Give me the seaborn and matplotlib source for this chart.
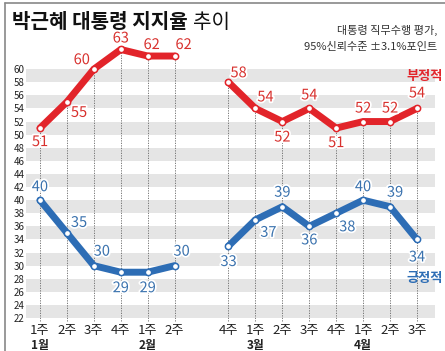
import matplotlib.pyplot as plt
import matplotlib.patheffects as pe
from matplotlib.lines import Line2D
import numpy as np
import pandas as pd
import seaborn as sns

# weekly approval poll, Jan - Apr (no poll in the 3rd week of Feb)
weeks = ['1주', '2주', '3주', '4주', '1주', '2주', '3주', '4주',
         '1주', '2주', '3주', '4주', '1주', '2주', '3주']
months = ['1월', '2월', '3월', '4월']
month_start = [0, 4, 8, 12]
negative = [51, 55, 60, 63, 62, 62, None, 58, 54, 52, 54, 51, 52, 52, 54]
positive = [40, 35, 30, 29, 29, 30, None, 33, 37, 39, 36, 38, 40, 39, 34]

# label offsets (pixels) for the value labels
neg_off = [(0, -14), (12, -11), (-12, 9), (0, 11), (4, 11), (9, 11), None, (10, 9),
           (10, 11), (0, -16), (0, 13), (0, -15), (0, 13), (0, 13), (0, 15)]
pos_off = [(0, 13), (12, 10), (8, 14), (0, -16), (0, -16), (7, 14), None, (0, -16),
           (13, -13), (0, 14), (0, -14), (11, -14), (0, 13), (5, 14), (0, -18)]

RED, RED_TXT = '#e2242a', '#d8312e'
BLUE, BLUE_TXT = '#2d6db5', '#3a72ae'

df = pd.DataFrame({'x': np.arange(len(weeks)), 'week': weeks,
                   'neg': negative, 'pos': positive})
df['neg'] = df['neg'].astype(float)
df['pos'] = df['pos'].astype(float)
df['seg'] = df['neg'].isna().cumsum()
plot_df = df.dropna()

sns.set_style('white')
plt.rcParams['font.family'] = ['Noto Sans CJK KR', 'DejaVu Sans']

W, H = 445, 351
fig = plt.figure(figsize=(W / 100, H / 100), dpi=100)
ax = fig.add_axes([26 / W, 1 - 322 / H, 409 / W, 302 / H])
ax.set_xlim(-0.52, 14.67)
ax.set_ylim(21.4, 67.5)

for lo in range(22, 60, 4):
    ax.axhspan(lo, lo + 2, color='#e5e5e5', lw=0, zorder=0)

ax.vlines(plot_df['x'], 21.5, plot_df['neg'], colors='#666666', lw=0.6,
          linestyles=(0, (1.5, 1.5)), zorder=1)

line_kw = dict(units='seg', estimator=None, lw=5, marker='o', markersize=4.5,
               markerfacecolor='white', markeredgewidth=1.1,
               solid_capstyle='round', solid_joinstyle='round', zorder=3, ax=ax)
sns.lineplot(data=plot_df, x='x', y='neg', color=RED, markeredgecolor=RED, **line_kw)
sns.lineplot(data=plot_df, x='x', y='pos', color=BLUE, markeredgecolor=BLUE, **line_kw)

halo = [pe.withStroke(linewidth=2.5, foreground='white')]
for col, offs, c in [('neg', neg_off, RED_TXT), ('pos', pos_off, BLUE_TXT)]:
    for i, v in enumerate(df[col]):
        if offs[i] is None:
            continue
        ax.annotate(f'{int(v)}', (i, v), xytext=offs[i], textcoords='offset pixels',
                    ha='center', va='center', fontsize=10.5, color=c,
                    path_effects=halo, zorder=4)

ax.text(14.3, 58.9, '부정적', color=RED, fontsize=9.5, fontweight='bold',
        ha='center', va='center')
ax.text(14.3, 28.1, '긍정적', color=BLUE, fontsize=9.5, fontweight='bold',
        ha='center', va='center')

ax.set_xticks(df['x'])
ax.set_xticklabels([w if not np.isnan(v) else '' for w, v in zip(weeks, df['neg'])])
ax.set_yticks(range(22, 61, 2))
ax.tick_params(axis='x', length=0, pad=1.5, labelsize=9.5, labelcolor='#222222')
ax.tick_params(axis='y', length=0, pad=1, labelsize=7, labelcolor='#222222')
ax.set_xlabel('')
ax.set_ylabel('')
for s in ax.spines.values():
    s.set_visible(False)

for m, i in zip(months, month_start):
    ax.text(i, -0.078, m, transform=ax.get_xaxis_transform(), ha='center',
            va='center', fontsize=8.5, color='#222222', fontweight='bold')

# title and note
t1 = fig.text(12 / W, 1 - 28 / H, '박근혜 대통령 지지율', fontsize=14.5,
              fontweight='bold', color='#111111', va='baseline')
r = fig.canvas.get_renderer()
bb = t1.get_window_extent(r)
fig.text((bb.x1 + 5) / W, 1 - 28 / H, '추이', fontsize=14.5, color='#111111',
         va='baseline')
fig.text(437 / W, 1 - 30 / H, '대통령 직무수행 평가,', fontsize=8, color='#333333',
         ha='right', va='center')
fig.text(437 / W, 1 - 47 / H, '95%신뢰수준 ±3.1%포인트', fontsize=8, color='#333333',
         ha='right', va='center')

# frame lines on the left and top
fig.add_artist(Line2D([5 / W, 5 / W], [0, 1 - 3 / H], color='#888888', lw=1.2))
fig.add_artist(Line2D([5 / W, 1], [1 - 3 / H, 1 - 3 / H], color='#888888', lw=1.2))

fig.savefig('out.png', dpi=100)
